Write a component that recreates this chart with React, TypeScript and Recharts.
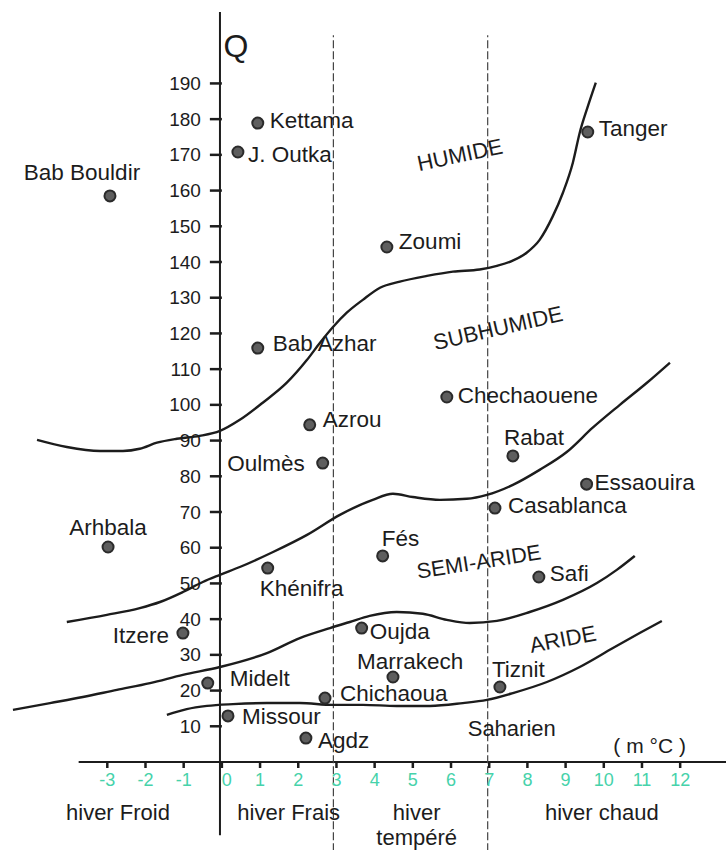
import React from 'react'
import { ComposedChart, Line, Scatter, XAxis, YAxis, ReferenceLine, ReferenceDot } from 'recharts'

// Emberger climagram – Q (pluviothermic quotient) vs m (°C)

const humideLimit = [
  { x: -4.84, y: 90.2 }, { x: -4.06, y: 88.2 }, { x: -3.19, y: 87.1 }, { x: -2.59, y: 87.1 },
  { x: -2.15, y: 87.7 }, { x: -1.7, y: 89.4 }, { x: -1.18, y: 90.5 }, { x: -0.58, y: 91.3 },
  { x: -0.05, y: 92.7 }, { x: 0.47, y: 95.8 }, { x: 1.07, y: 100.6 }, { x: 1.7, y: 106.2 },
  { x: 2.23, y: 112.6 }, { x: 2.57, y: 117.4 }, { x: 2.91, y: 121.8 }, { x: 3.27, y: 125.8 },
  { x: 3.69, y: 129.4 }, { x: 4.14, y: 132.8 }, { x: 4.66, y: 134.5 }, { x: 5.37, y: 136.1 },
  { x: 6.05, y: 137.3 }, { x: 6.75, y: 137.9 }, { x: 7.2, y: 138.9 }, { x: 7.6, y: 140.3 },
  { x: 7.98, y: 142.6 }, { x: 8.32, y: 146.2 }, { x: 8.66, y: 152.7 }, { x: 8.93, y: 159.4 },
  { x: 9.19, y: 167.8 }, { x: 9.37, y: 176.2 }, { x: 9.58, y: 183.5 }, { x: 9.79, y: 190.2 },
]

const subhumideLimit = [
  { x: -4.06, y: 39.2 }, { x: -3.01, y: 41.2 }, { x: -2.15, y: 43.1 }, { x: -1.62, y: 44.8 },
  { x: -1.02, y: 47.6 }, { x: -0.5, y: 50.4 }, { x: -0.05, y: 52.4 }, { x: 0.47, y: 54.6 },
  { x: 1.34, y: 58.8 }, { x: 2.23, y: 63.6 }, { x: 3.09, y: 69.2 }, { x: 3.95, y: 73.4 },
  { x: 4.48, y: 75.1 }, { x: 5.0, y: 74.2 }, { x: 5.71, y: 73.4 }, { x: 6.41, y: 73.7 },
  { x: 6.94, y: 74.8 }, { x: 7.62, y: 77.6 }, { x: 8.32, y: 81.8 }, { x: 9.03, y: 86.8 },
  { x: 9.71, y: 93.6 }, { x: 10.42, y: 100.0 }, { x: 11.13, y: 106.2 }, { x: 11.73, y: 111.8 },
]

const semiArideLimit = [
  { x: -5.47, y: 14.6 }, { x: -4.5, y: 16.5 }, { x: -3.64, y: 18.2 }, { x: -2.75, y: 20.2 },
  { x: -1.88, y: 22.1 }, { x: -1.02, y: 24.4 }, { x: -0.05, y: 26.6 }, { x: 1.18, y: 30.5 },
  { x: 2.04, y: 34.7 }, { x: 2.83, y: 37.5 }, { x: 3.35, y: 39.2 }, { x: 3.87, y: 40.9 },
  { x: 4.58, y: 42.0 }, { x: 5.26, y: 41.5 }, { x: 5.89, y: 39.8 }, { x: 6.49, y: 38.9 },
  { x: 7.2, y: 39.5 }, { x: 8.06, y: 42.0 }, { x: 8.93, y: 45.4 }, { x: 9.82, y: 50.1 },
  { x: 10.34, y: 53.8 }, { x: 10.81, y: 57.7 },
]

const arideLimit = [
  { x: -1.44, y: 13.2 }, { x: -0.92, y: 14.8 }, { x: -0.39, y: 15.7 }, { x: 0.29, y: 16.2 },
  { x: 1.18, y: 16.5 }, { x: 2.04, y: 16.5 }, { x: 2.91, y: 16.0 }, { x: 3.69, y: 16.0 },
  { x: 4.58, y: 15.7 }, { x: 5.45, y: 15.7 }, { x: 6.31, y: 16.5 }, { x: 6.94, y: 17.4 },
  { x: 7.62, y: 19.3 }, { x: 8.51, y: 22.4 }, { x: 9.37, y: 26.6 }, { x: 10.24, y: 31.9 },
  { x: 10.94, y: 36.1 }, { x: 11.52, y: 39.5 },
]

const stations = [
  { name: 'Bab Bouldir', x: -2.93, y: 158.5 },
  { name: 'Kettama', x: 0.94, y: 178.9 },
  { name: 'J. Outka', x: 0.42, y: 170.8 },
  { name: 'Zoumi', x: 4.32, y: 144.2 },
  { name: 'Tanger', x: 9.58, y: 176.4 },
  { name: 'Bab Azhar', x: 0.94, y: 115.9 },
  { name: 'Chechaouene', x: 5.89, y: 102.2 },
  { name: 'Azrou', x: 2.3, y: 94.4 },
  { name: 'Oulmès', x: 2.64, y: 83.7 },
  { name: 'Rabat', x: 7.62, y: 85.7 },
  { name: 'Essaouira', x: 9.55, y: 77.8 },
  { name: 'Casablanca', x: 7.15, y: 71.1 },
  { name: 'Arhbala', x: -2.98, y: 60.2 },
  { name: 'Khénifra', x: 1.2, y: 54.3 },
  { name: 'Fés', x: 4.21, y: 57.7 },
  { name: 'Safi', x: 8.3, y: 51.8 },
  { name: 'Itzere', x: -1.02, y: 36.1 },
  { name: 'Oujda', x: 3.66, y: 37.5 },
  { name: 'Marrakech', x: 4.48, y: 23.8 },
  { name: 'Tiznit', x: 7.28, y: 21.0 },
  { name: 'Midelt', x: -0.37, y: 22.1 },
  { name: 'Chichaoua', x: 2.7, y: 17.9 },
  { name: 'Missour', x: 0.16, y: 12.9 },
  { name: 'Agdz', x: 2.2, y: 6.7 },
]

const zoneLabels = [
  { name: 'HUMIDE', x: 6.23, y: 170.0 },
  { name: 'SUBHUMIDE', x: 7.23, y: 121.5 },
  { name: 'SEMI-ARIDE', x: 6.73, y: 56.0 },
  { name: 'ARIDE', x: 8.93, y: 34.4 },
  { name: 'Saharien', x: 7.59, y: 9.5 },
  { name: '( m °C )', x: 11.2, y: 4.6 },
  { name: 'Q', x: 0.37, y: 200.5 },
]

const winterLabels = [
  { name: 'hiver Froid', x: -2.72, y: -16.3 },
  { name: 'hiver Frais', x: 1.75, y: -16.3 },
  { name: 'hiver', x: 5.1, y: -16.3 },
  { name: 'tempéré', x: 5.1, y: -23.3 },
  { name: 'hiver chaud', x: 9.95, y: -16.3 },
]

const winterBounds = [2.92, 6.96]
const xTicks = [-3, -2, -1, 0, 1, 2, 3, 4, 5, 6, 7, 8, 9, 10, 11, 12]
const yTicks = [10, 20, 30, 40, 50, 60, 70, 80, 90, 100, 110, 120, 130, 140, 150, 160, 170, 180, 190]

const X_MIN = -5.6
const X_MAX = 13.2
const Y_AXIS_W = 60
const MARGIN = { top: 12, right: 1, bottom: 58, left: 8 - Y_AXIS_W }
const W = 727
const H = 850
const PLOT_LEFT = 8
const PLOT_W = W - PLOT_LEFT - MARGIN.right
const X0 = PLOT_LEFT + ((0 - X_MIN) / (X_MAX - X_MIN)) * PLOT_W

const FONT = '"Liberation Sans", Arial, Helvetica, sans-serif'
const INK = '#1c1c1c'

// label offsets in px relative to the dot: [dx, dy, anchor]
const labelOffset: Record<string, [number, number, 'start' | 'middle' | 'end']> = {
  'Bab Bouldir': [-28, -23, 'middle'],
  Kettama: [12, -3, 'start'],
  'J. Outka': [10, 2, 'start'],
  Zoumi: [12, -6, 'start'],
  Tanger: [11, -4, 'start'],
  'Bab Azhar': [15, -5, 'start'],
  Chechaouene: [11, -2, 'start'],
  Azrou: [13, -5, 'start'],
  Oulmès: [-18, 0, 'end'],
  Rabat: [-9, -18, 'start'],
  Essaouira: [8, -2, 'start'],
  Casablanca: [13, -3, 'start'],
  Arhbala: [0, -20, 'middle'],
  Khénifra: [-8, 20, 'start'],
  Fés: [-1, -17, 'start'],
  Safi: [11, -4, 'start'],
  Itzere: [-14, 2, 'end'],
  Oujda: [8, 3, 'start'],
  Marrakech: [-36, -16, 'start'],
  Tiznit: [-8, -18, 'start'],
  Midelt: [22, -5, 'start'],
  Chichaoua: [15, -5, 'start'],
  Missour: [14, 1, 'start'],
  Agdz: [12, 2, 'start'],
}

const zoneStyle: Record<string, { size: number; angle: number }> = {
  HUMIDE: { size: 22, angle: -12 },
  SUBHUMIDE: { size: 22, angle: -13 },
  'SEMI-ARIDE': { size: 21.5, angle: -9 },
  ARIDE: { size: 22, angle: -11 },
  Saharien: { size: 22, angle: 0 },
  '( m °C )': { size: 21, angle: 0 },
  Q: { size: 32, angle: 0 },
}

const StationShape = (props: any) => {
  const { cx, cy, payload } = props
  const [dx, dy, anchor] = labelOffset[payload.name] || [12, 0, 'start']
  return (
    <g>
      <circle cx={cx} cy={cy} r={5.5} fill="#5e5e5e" stroke="#2b2b2b" strokeWidth={2} />
      <text x={cx + dx} y={cy + dy} textAnchor={anchor} dominantBaseline="central"
        fontFamily={FONT} fontSize={22.5} fill={INK}>
        {payload.name}
      </text>
    </g>
  )
}

const ZoneShape = (props: any) => {
  const { cx, cy, payload } = props
  const st = zoneStyle[payload.name]
  return (
    <text x={cx} y={cy} textAnchor="middle" dominantBaseline="central" fontFamily={FONT}
      fontSize={st.size} fill={INK} transform={`rotate(${st.angle} ${cx} ${cy})`}>
      {payload.name}
    </text>
  )
}

const XTick = (props: any) => {
  const { x, y, payload } = props
  const shift = payload.value === 0 ? 5 : 0
  return (
    <text x={x + shift} y={y + 3} textAnchor="middle" dominantBaseline="hanging"
      fontFamily={FONT} fontSize={18} fill="#46d2aa">
      {payload.value}
    </text>
  )
}

const YTick = (props: any) => {
  const { y, payload } = props
  return (
    <g>
      <line x1={X0 - 12} x2={X0} y1={y} y2={y} stroke={INK} strokeWidth={2.5} />
      <text x={X0 - 21} y={y} textAnchor="end" dominantBaseline="central"
        fontFamily={FONT} fontSize={19} fill={INK}>
        {payload.value}
      </text>
    </g>
  )
}

const curves = [humideLimit, subhumideLimit, semiArideLimit, arideLimit]

export default function App() {
  return (
    <div style={{ position: 'absolute', left: 0, top: 0, width: W, height: H, background: '#fff' }}>
      <ComposedChart width={W} height={H} margin={MARGIN}>
        <XAxis type="number" dataKey="x" domain={[X_MIN, X_MAX]} allowDataOverflow
          ticks={xTicks} interval={0} axisLine={false} height={30}
          tickLine={{ stroke: INK, strokeWidth: 2.5 }} tickSize={6} tick={<XTick />} />
        <YAxis type="number" dataKey="y" domain={[0, 210]} allowDataOverflow width={Y_AXIS_W}
          ticks={yTicks} interval={0} axisLine={false} tickLine={false} tick={<YTick />} />

        <ReferenceLine segment={[{ x: -3.75, y: 0 }, { x: X_MAX, y: 0 }]} ifOverflow="visible"
          stroke={INK} strokeWidth={2} />
        <ReferenceLine segment={[{ x: -0.05, y: -20.5 }, { x: -0.05, y: 210 }]} ifOverflow="visible"
          stroke={INK} strokeWidth={2} />
        {winterBounds.map((b) => (
          <ReferenceLine key={b} segment={[{ x: b, y: -25 }, { x: b, y: 203.5 }]} ifOverflow="visible"
            stroke="#444" strokeWidth={1.2} strokeDasharray="8 3" />
        ))}

        {curves.map((c, i) => (
          <Line key={i} data={c} dataKey="y" type="monotone" dot={false} stroke={INK}
            strokeWidth={2.4} isAnimationActive={false} legendType="none" />
        ))}

        <Scatter data={stations} dataKey="y" shape={<StationShape />} isAnimationActive={false} />
        <Scatter data={zoneLabels} dataKey="y" shape={<ZoneShape />} isAnimationActive={false} />

        {winterLabels.map((w) => (
          <ReferenceDot key={w.name} x={w.x} y={w.y} ifOverflow="visible"
            shape={(p: any) => (
              <text x={p.cx} y={p.cy} textAnchor="middle" fontFamily={FONT} fontSize={22} fill={INK}>
                {w.name}
              </text>
            )} />
        ))}
      </ComposedChart>
    </div>
  )
}
